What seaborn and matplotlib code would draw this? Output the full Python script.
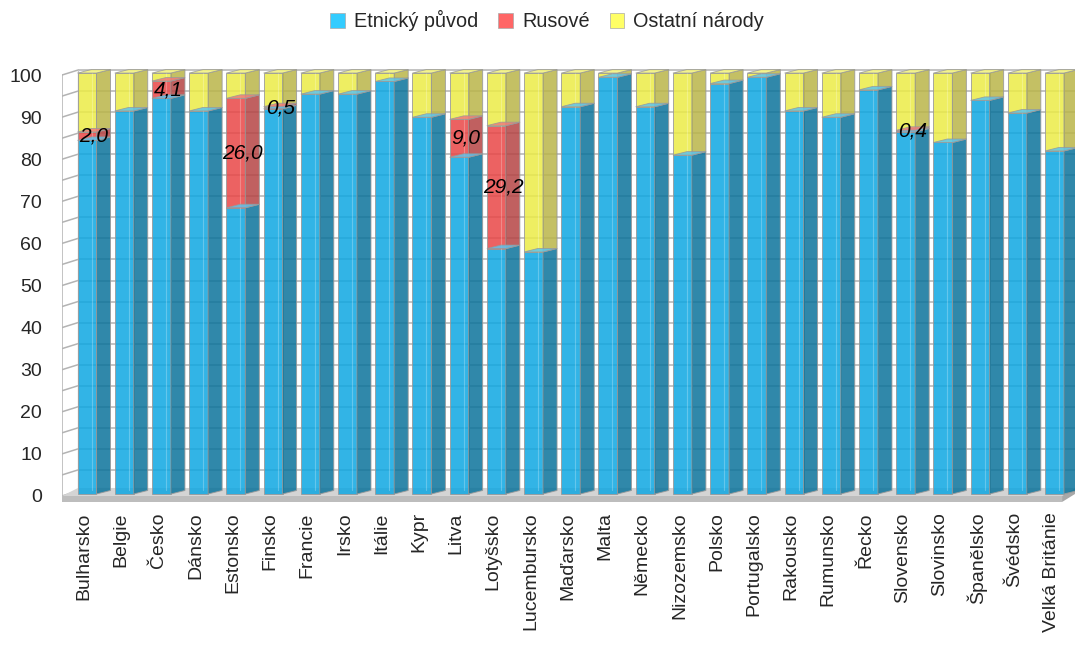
import matplotlib
matplotlib.use("Agg")
import matplotlib.pyplot as plt
from matplotlib.patches import Polygon, Patch
from matplotlib.transforms import ScaledTranslation
import numpy as np
import pandas as pd
import seaborn as sns

# ---- data -----------------------------------------------------------------
countries = ["Bulharsko", "Belgie", "Česko", "Dánsko", "Estonsko", "Finsko",
             "Francie", "Irsko", "Itálie", "Kypr", "Litva", "Lotyšsko",
             "Lucembursko", "Maďarsko", "Malta", "Německo", "Nizozemsko",
             "Polsko", "Portugalsko", "Rakousko", "Rumunsko", "Řecko",
             "Slovensko", "Slovinsko", "Španělsko", "Švédsko", "Velká Británie"]
etnicky = [84.0, 91.0, 94.0, 91.0, 68.0, 91.5, 95.0, 95.0, 98.0, 89.5, 80.0, 58.3,
           57.5, 92.0, 99.0, 92.0, 80.5, 97.5, 99.0, 91.0, 89.5, 96.0, 86.0, 83.5,
           93.5, 90.5, 81.5]
rusove = [2.0, 0.0, 4.1, 0.0, 26.0, 0.5, 0.0, 0.0, 0.0, 0.0, 9.0, 29.2,
          0.0, 0.0, 0.0, 0.0, 0.0, 0.0, 0.0, 0.0, 0.0, 0.0, 0.4, 0.0,
          0.0, 0.0, 0.0]
ostatni = [14.0, 9.0, 1.9, 9.0, 6.0, 8.0, 5.0, 5.0, 2.0, 10.5, 11.0, 12.5,
           42.5, 8.0, 1.0, 8.0, 19.5, 2.5, 1.0, 9.0, 10.5, 4.0, 13.6, 16.5,
           6.5, 9.5, 18.5]
series_names = ["Etnický původ", "Rusové", "Ostatní národy"]
y_ticks = list(range(0, 101, 10))
grid_steps = list(range(0, 101, 5))

# ---- style ------------------------------------------------------------------
sns.set_style("white")
plt.rcParams["font.family"] = ["Liberation Sans", "DejaVu Sans"]

legend_colors = ["#33CCFF", "#FF6666", "#FFFF66"]
front_colors = ["#0EA7E2", "#E94646", "#EBEB46"]
side_colors = ["#0B739B", "#B54444", "#BAB549"]
top_colors = ["#5CC4EE", "#F07A7A", "#F2F27A"]
ALPHA = 0.85

fig = plt.figure(figsize=(10.75, 6.46), dpi=100)
# plot area: x from px 62 to 1075, y from px 58 to 504
ax = fig.add_axes([0.05767, 0.21904, 0.94233, 0.6907])
XLIM = (-0.672, 26.55)
YLIM = (-2.5, 103.5)

PX_X = 37.21   # pixels per category step
PX_Y = 4.21    # pixels per percent
DX = 14 / PX_X      # depth offset of bar sides
DY = 3.5 / PX_Y
WALL_DY = 3 / PX_Y  # back wall offset
LEFT_FRONT = XLIM[0]
LEFT_BACK = LEFT_FRONT + 16 / PX_X
RIGHT_END = XLIM[1]
FRONT_WALL = -2 / PX_Y

# back wall grid and left wall
for v in grid_steps:
    ax.plot([LEFT_BACK, RIGHT_END], [v + WALL_DY, v + WALL_DY],
            color="#B3B3B3", lw=1.1, zorder=1, solid_capstyle="butt")
    ax.plot([LEFT_FRONT, LEFT_BACK], [v + FRONT_WALL, v + WALL_DY],
            color="#B3B3B3", lw=1.1, zorder=1)
ax.plot([LEFT_FRONT, LEFT_FRONT], [FRONT_WALL, 100 + FRONT_WALL],
        color="#B3B3B3", lw=1.1, zorder=1)
ax.plot([LEFT_BACK, LEFT_BACK], [WALL_DY, 100 + WALL_DY],
        color="#C8C8C8", lw=1.0, zorder=1)

# floor
f_front = -2 / PX_Y
f_low = -8 / PX_Y
f_back = 6 / PX_Y
front_right = (1062 - 87) / PX_X
ax.add_patch(Polygon([(LEFT_FRONT, f_front), (front_right, f_front),
                      (RIGHT_END, f_back), (LEFT_BACK, f_back)],
                     closed=True, facecolor="#D4D4D4", edgecolor="none", zorder=1.5))
ax.add_patch(Polygon([(LEFT_FRONT, f_front), (front_right, f_front),
                      (front_right, f_low), (LEFT_FRONT, f_low)],
                     closed=True, facecolor="#BDBDBD", edgecolor="none", zorder=1.5))
ax.add_patch(Polygon([(front_right, f_front), (RIGHT_END, f_back),
                      (RIGHT_END, f_back - 6 / PX_Y), (front_right, f_low)],
                     closed=True, facecolor="#A8A8A8", edgecolor="none", zorder=1.5))

# ---- stacked bars -----------------------------------------------------------
df = pd.DataFrame({"stat": countries, "Etnický původ": etnicky,
                   "Rusové": rusove, "Ostatní národy": ostatni})
bottoms = [np.zeros(len(countries)),
           np.array(etnicky),
           np.array(etnicky) + np.array(rusove)]
for k, name in enumerate(series_names):
    sns.barplot(data=df, x="stat", y=name, bottom=bottoms[k], width=0.51,
                color=front_colors[k], saturation=1, alpha=ALPHA,
                edgecolor=(0.6, 0.6, 0.6, 0.6), linewidth=0.7,
                errorbar=None, ax=ax, zorder=3)

# seaborn resets the categorical limits, so fix them afterwards
ax.set_xlim(*XLIM)
ax.set_ylim(*YLIM)

# side and top faces built from the drawn bar rectangles
for k, cont in enumerate(ax.containers):
    for rect in cont:
        h = rect.get_height()
        if h <= 0:
            continue
        x0 = rect.get_x()
        x1 = x0 + rect.get_width()
        y0 = rect.get_y()
        y1 = y0 + h
        ax.add_patch(Polygon([(x1, y0), (x1 + DX, y0 + DY), (x1 + DX, y1 + DY), (x1, y1)],
                             closed=True, facecolor=side_colors[k], alpha=ALPHA,
                             edgecolor=(0.6, 0.6, 0.6, 0.6), lw=0.7, zorder=3))
        ax.add_patch(Polygon([(x0, y1), (x1, y1), (x1 + DX, y1 + DY), (x0 + DX, y1 + DY)],
                             closed=True, facecolor=top_colors[k], alpha=ALPHA,
                             edgecolor=(0.6, 0.6, 0.6, 0.5), lw=0.6, zorder=3.5))
        # hidden back edge seen through the translucent box
        ax.plot([x0 + DX, x0 + DX], [y0 + DY, y1 + DY],
                color=(1, 1, 1, 0.25), lw=0.8, zorder=3.2)

# value labels for the Russian minority
for i, r in enumerate(rusove):
    if r > 0:
        ax.text(i + 0.19, etnicky[i] + r / 2, f"{r:.1f}".replace(".", ","),
                ha="center", va="center", fontsize=15, style="italic",
                color="black", zorder=6)

# ---- axes decoration --------------------------------------------------------
for s in ax.spines.values():
    s.set_visible(False)
ax.set_xlabel("")
ax.set_ylabel("")
ax.set_xticks(range(len(countries)))
ax.set_xticklabels(countries, rotation=90, fontsize=14, va="top", ha="center")
ax.set_yticks(y_ticks)
ax.set_yticklabels([str(v) for v in y_ticks], fontsize=14)
ax.tick_params(axis="x", length=0, pad=5.5)
ax.tick_params(axis="y", length=0, pad=14.4)
shift = ScaledTranslation(0, -2 / 100, fig.dpi_scale_trans)
for lab in ax.get_yticklabels():
    lab.set_transform(lab.get_transform() + shift)
shift_x = ScaledTranslation(-3 / 100, 0, fig.dpi_scale_trans)
for lab in ax.get_xticklabels():
    lab.set_transform(lab.get_transform() + shift_x)

handles = [Patch(facecolor=c, edgecolor="#AAAAAA", linewidth=0.5) for c in legend_colors]
fig.legend(handles, series_names, loc="upper center", bbox_to_anchor=(0.509, 1.012),
           ncol=3, frameon=False, fontsize=14.3, handlelength=0.75,
           handleheight=0.75, handletextpad=0.45, columnspacing=1.0)

fig.savefig("out.png", dpi=100)
